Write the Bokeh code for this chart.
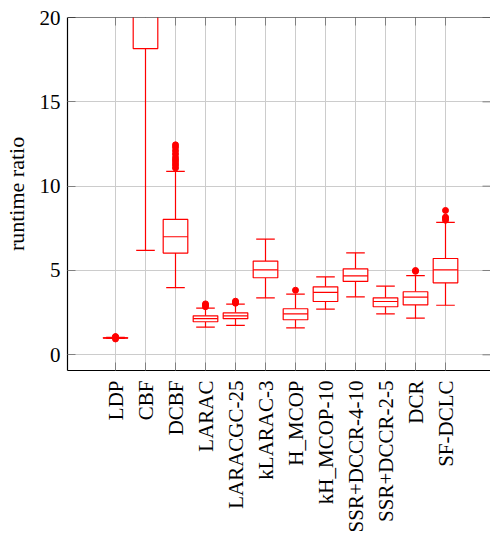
import math
from bokeh.plotting import figure
from bokeh.models import Range1d, FixedTicker, ColumnDataSource, Span
from bokeh.embed import file_html
from bokeh.resources import INLINE

categories = ["LDP", "CBF", "DCBF", "LARAC", "LARACGC-25", "kLARAC-3", "H_MCOP",
              "kH_MCOP-10", "SSR+DCCR-4-10", "SSR+DCCR-2-5", "DCR", "SF-DCLC"]
lower_whisker = [0.97, 6.19, 3.98, 1.64, 1.74, 3.38, 1.60, 2.71, 3.44, 2.43, 2.17, 2.94]
q1 = [0.99, 18.16, 6.03, 1.96, 2.14, 4.57, 2.08, 3.16, 4.35, 2.85, 2.96, 4.27]
median = [1.00, 24.0, 7.00, 2.14, 2.31, 5.04, 2.43, 3.70, 4.68, 3.16, 3.42, 5.04]
q3 = [1.01, 30.0, 8.03, 2.31, 2.49, 5.56, 2.73, 4.03, 5.10, 3.38, 3.74, 5.71]
upper_whisker = [1.03, 45.0, 10.88, 2.77, 3.00, 6.86, 3.60, 4.62, 6.05, 4.07, 4.70, 7.85]
outliers = [
    [0.94, 1.06, 1.08],
    [],
    [11.08, 11.25, 11.4, 11.55, 11.7, 11.9, 12.1, 12.3, 12.45],
    [2.85, 2.95, 3.02],
    [3.06, 3.12, 3.18],
    [],
    [3.83],
    [],
    [],
    [],
    [4.95, 5.0],
    [7.98, 8.08, 8.16, 8.56],
]
y_ticks = [0, 5, 10, 15, 20]

RED = "#ff0000"
FONT = "Liberation Serif"
BOX_W = 0.82
CAP_W = 0.62
Y_MIN, Y_MAX = -0.93, 20
X_MIN, X_MAX = -0.6, 13.5
FRAME_H = 353  # px
FRAME_W = 423  # px
TICK_PX = 8

positions = list(range(1, len(categories) + 1))

p = figure(width=490, height=545, output_backend="svg", toolbar_location=None,
           x_range=Range1d(X_MIN, X_MAX), y_range=Range1d(Y_MIN, Y_MAX),
           min_border_left=67, min_border_right=0, min_border_top=17,
           min_border_bottom=175)
p.outline_line_color = None
p.background_fill_color = "white"
p.border_fill_color = "white"

p.xgrid.ticker = FixedTicker(ticks=positions)
p.ygrid.ticker = FixedTicker(ticks=y_ticks)
p.xgrid.grid_line_color = "#cccccc"
p.ygrid.grid_line_color = "#cccccc"

src = ColumnDataSource(dict(
    x=positions, lw=lower_whisker, q1=q1, med=median, q3=q3, uw=upper_whisker,
    xl=[x - BOX_W / 2 for x in positions], xr=[x + BOX_W / 2 for x in positions],
    cl=[x - CAP_W / 2 for x in positions], cr=[x + CAP_W / 2 for x in positions],
))

# ticks on the top and right edges of the frame (as pgfplots draws them)
tick_len_y = TICK_PX * (Y_MAX - Y_MIN) / FRAME_H
p.segment(x0=positions, y0=[Y_MAX] * len(positions), x1=positions,
          y1=[Y_MAX - tick_len_y] * len(positions), line_color="#808080", line_width=1)
tick_len_x = TICK_PX * (X_MAX - X_MIN) / FRAME_W
p.segment(x0=[X_MAX] * len(y_ticks), y0=y_ticks, x1=[X_MAX - tick_len_x] * len(y_ticks),
          y1=y_ticks, line_color="#808080", line_width=1)
p.add_layout(Span(location=Y_MAX, dimension="width", line_color="black", line_width=1.2))

# whiskers
p.segment(x0="x", y0="q3", x1="x", y1="uw", source=src, line_color=RED, line_width=1.2)
p.segment(x0="x", y0="q1", x1="x", y1="lw", source=src, line_color=RED, line_width=1.2)
# caps
p.segment(x0="cl", y0="uw", x1="cr", y1="uw", source=src, line_color=RED, line_width=1.2)
p.segment(x0="cl", y0="lw", x1="cr", y1="lw", source=src, line_color=RED, line_width=1.2)
# boxes
p.quad(left="xl", right="xr", bottom="q1", top="q3", source=src,
       fill_color="white", line_color=RED, line_width=1.2)
# medians
p.segment(x0="xl", y0="med", x1="xr", y1="med", source=src, line_color=RED, line_width=1.2)

ox, oy = [], []
for x, vals in zip(positions, outliers):
    for v in vals:
        ox.append(x)
        oy.append(v)
p.scatter(ox, oy, size=6, fill_color=RED, line_color=RED)

xaxis = p.xaxis[0]
xaxis.ticker = FixedTicker(ticks=positions)
xaxis.major_label_overrides = {x: c for x, c in zip(positions, categories)}
xaxis.major_label_orientation = math.pi / 2
yaxis = p.yaxis[0]
yaxis.ticker = FixedTicker(ticks=y_ticks)
yaxis.axis_label = "runtime ratio"

for ax in (xaxis, yaxis):
    ax.axis_line_color = "black"
    ax.axis_line_width = 1.2
    ax.major_tick_in = TICK_PX
    ax.major_tick_out = 0
    ax.major_tick_line_color = "#808080"
    ax.minor_tick_line_color = None
    ax.major_label_text_font = FONT
    ax.major_label_text_font_size = "21px"
    ax.major_label_text_color = "black"
    ax.axis_label_text_font = FONT
    ax.axis_label_text_font_size = "22px"
    ax.axis_label_text_font_style = "normal"
    ax.axis_label_text_color = "black"
xaxis.major_label_standoff = 10
yaxis.major_label_standoff = 7
yaxis.axis_label_standoff = 8

open("out.html", "w").write(file_html(p, INLINE))
